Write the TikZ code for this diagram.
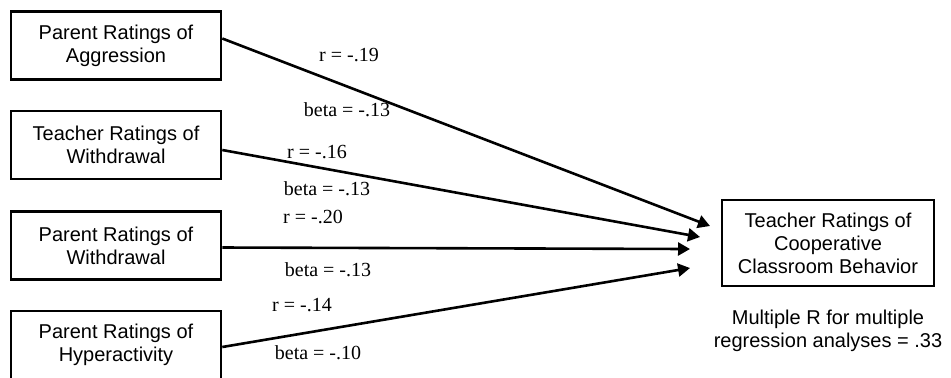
\documentclass[tikz,border=0pt]{standalone}
\usepackage{fontspec}
\setmainfont{Liberation Serif}
\setsansfont{Liberation Sans}
\usetikzlibrary{arrows.meta,positioning}

\begin{document}
\begin{tikzpicture}[
  x=0.5pt, y=-0.5pt,
  font=\sffamily\fontsize{10}{11.5}\selectfont,
  box/.style={draw, line width=1.3pt, minimum width=105pt, minimum height=34pt, align=center, inner sep=2pt},
  coef/.style={font=\rmfamily\fontsize{10}{11}\selectfont, inner sep=0pt},
  ar/.style={-{Triangle[length=6pt,width=6.5pt]}, line width=1.3pt}
]
\useasboundingbox (0,0) rectangle (951,377);
\node[box] (pa) at (116,45.5) {Parent Ratings of\\Aggression};
\node[box] (tw) at (116,145) {Teacher Ratings of\\Withdrawal};
\node[box] (pw) at (116,245.5) {Parent Ratings of\\Withdrawal};
\node[box] (ph) at (116,345) {Parent Ratings of\\Hyperactivity};
\node[box, minimum width=106pt, minimum height=43pt] (tc) at (828,243) {Teacher Ratings of\\Cooperative\\Classroom Behavior};
\node[below=8pt of tc, align=center] (mr) {Multiple R for multiple\\regression analyses = .33};

% arrow ends short of the outcome box
\coordinate (e1) at (710,226);
\coordinate (e2) at (700,237);
\coordinate (e3) at (690,249);
\coordinate (e4) at (690,268);
\foreach \s/\t/\d in {pa/e1/3.5, tw/e2/-2.5, pw/e3/-1, ph/e4/-1}
  \draw[ar] ([yshift=\d pt]\s.east) -- (\t);

\node[coef] (r1) at (349,55) {r = -.19};
\node[coef] (b1) at (347,110) {beta = -.13};
\node[coef] (r2) at (317,152) {r = -.16};
\node[coef] (b2) at (327,189) {beta = -.13};
\node[coef] (r3) at (313,217) {r = -.20};
\node[coef] (b3) at (328,270) {beta = -.13};
\node[coef] (r4) at (302,305) {r = -.14};
\node[coef] (b4) at (318,353) {beta = -.10};
\end{tikzpicture}
\end{document}
